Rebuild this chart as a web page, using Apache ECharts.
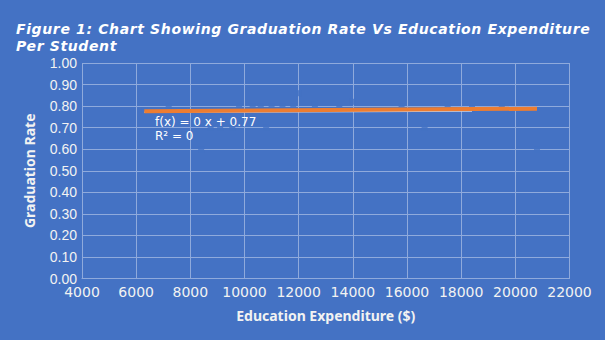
<!DOCTYPE html>
<html><head><meta charset="utf-8">
<script src="https://cdn.jsdelivr.net/npm/echarts@6/dist/echarts.min.js"></script>
<style>html,body{margin:0;padding:0;background:#4472C4;} #c{width:605px;height:340px;}
text[style*="italic"]{letter-spacing:0.63px;}
</style>
</head><body><div id="c"></div>
<script>
// Data (markers are drawn in the background colour)
const expenditure = [6300, 7200, 8400, 8750, 9100, 9550, 9800, 10300, 10600, 10800, 11000, 11400, 11800, 12000, 12600, 13500, 14000, 15800, 16650, 17500, 18400, 19500, 20800];
const gradRate    = [0.78, 0.80, 0.60, 0.70, 0.70, 0.70, 0.80, 0.80, 0.80, 0.70, 0.80, 0.80, 0.80, 0.86, 0.81, 0.79, 0.82, 0.80, 0.70, 0.81, 0.79, 0.80, 0.60];
const trendX = [6300, 20800];
const trendY = [0.776, 0.788];
const trend2X = [6300, 18400];
const trend2Y = [0.771, 0.777];
const equationLines = ['f(x) = 0 x + 0.77', 'R² = 0'];
const titleText = 'Figure 1: Chart Showing Graduation Rate Vs Education Expenditure\nPer Student';
const xName = 'Education Expenditure ($)';
const yName = 'Graduation Rate';

const BG = '#4472C4', GRID = '#8FAADC', TXT = '#F2F2F2';
const zip = (a, b) => a.map((v, i) => [v, b[i]]);

const chart = echarts.init(document.getElementById('c'), null, {renderer: 'svg'});
chart.setOption({
  backgroundColor: BG,
  animation: false,
  title: {
    text: titleText, left: 11, top: 15,
    textStyle: {color: '#fff', fontStyle: 'italic', fontWeight: 'bold', fontSize: 14, fontFamily: 'DejaVu Sans', lineHeight: 17}
  },
  grid: {left: 82, right: 35.5, top: 63, bottom: 61.5},
  xAxis: {
    type: 'value', min: 4000, max: 22000, interval: 2000,
    name: xName, nameLocation: 'middle', nameGap: 30,
    nameTextStyle: {color: TXT, fontWeight: 'bold', fontSize: 14, fontFamily: 'Noto Sans'},
    axisLine: {show: true, lineStyle: {color: GRID, width: 1}},
    axisTick: {show: false},
    axisLabel: {color: TXT, fontSize: 14, lineHeight: 14, fontFamily: 'DejaVu Sans', margin: 6, formatter: v => String(v)},
    splitLine: {show: true, lineStyle: {color: GRID, width: 1}}
  },
  yAxis: {
    type: 'value', min: 0, max: 1, interval: 0.1,
    name: yName, nameLocation: 'middle', nameGap: 46,
    nameTextStyle: {color: TXT, fontWeight: 'bold', fontSize: 14, fontFamily: 'Noto Sans'},
    axisLine: {show: false},
    axisTick: {show: false},
    axisLabel: {color: TXT, fontSize: 14, lineHeight: 12, fontFamily: 'Liberation Sans', margin: 5, formatter: v => v.toFixed(2)},
    splitLine: {show: true, lineStyle: {color: GRID, width: 1}}
  },
  graphic: [{
    type: 'text', left: 155, top: 115, z: 100,
    style: {text: equationLines.join('\n'), fill: '#fff', font: '12px DejaVu Sans', lineHeight: 14}
  }],
  series: [
    {type: 'scatter', data: zip(expenditure, gradRate), symbol: 'rect', symbolSize: 6,
     itemStyle: {color: BG}, z: 2},
    {type: 'line', data: zip(trend2X, trend2Y), symbol: 'none', z: 3,
     lineStyle: {color: '#C9D2E6', width: 1.5}},
    {type: 'line', data: zip(trendX, trendY), symbol: 'none', z: 4,
     lineStyle: {color: '#ED7D31', width: 4, cap: 'butt'}}
  ]
});
</script></body></html>
